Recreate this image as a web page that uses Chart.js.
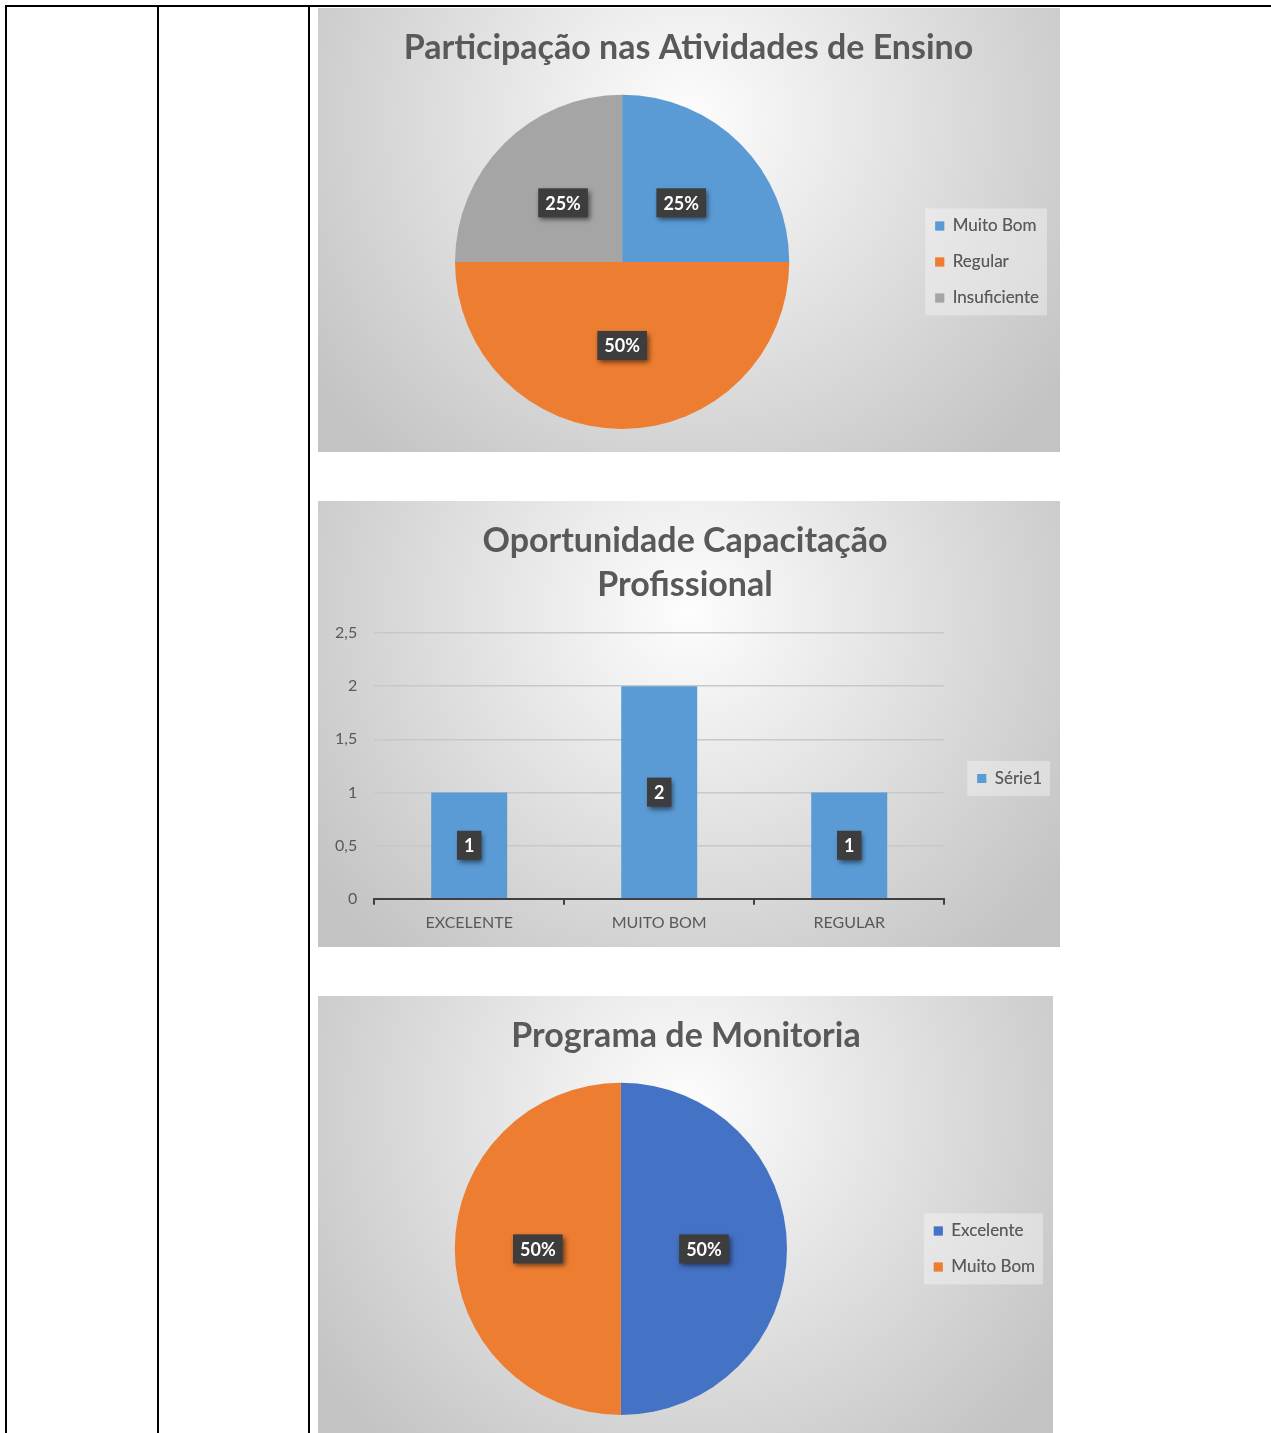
<!DOCTYPE html>
<html lang="pt-BR">
<head>
<meta charset="utf-8">
<title>Gráficos</title>
<script src="https://cdn.jsdelivr.net/npm/chart.js@4.4.1/dist/chart.umd.min.js"></script>
<style>
    html, body { margin: 0; padding: 0; background: #fff; }
    body { width: 1271px; height: 1433px; overflow: hidden; position: relative; }
    .linha { position: absolute; background: #000; }
    canvas { position: absolute; }
</style>
</head>
<body>
<!-- bordas da tabela -->
<div class="linha" style="left:5px;top:5px;width:1266px;height:2px"></div>
<div class="linha" style="left:5px;top:5px;width:2px;height:1428px"></div>
<div class="linha" style="left:157px;top:5px;width:2px;height:1428px"></div>
<div class="linha" style="left:308px;top:5px;width:2px;height:1428px"></div>

<canvas id="grafEnsino" width="742" height="444" style="left:318px;top:8px"></canvas>
<canvas id="grafCapacitacao" width="742" height="446" style="left:318px;top:501px"></canvas>
<canvas id="grafMonitoria" width="735" height="445" style="left:318px;top:996px"></canvas>

<script>
// ---- dados ----
const ensinoCategorias = ['Muito Bom', 'Regular', 'Insuficiente'];
const ensinoValores = [1, 2, 1];
const ensinoCores = ['#5B9BD5', '#ED7D31', '#A5A5A5'];

const capacitacaoCategorias = ['EXCELENTE', 'MUITO BOM', 'REGULAR'];
const capacitacaoValores = [1, 2, 1];
const capacitacaoTicks = [0, 0.5, 1, 1.5, 2, 2.5];

const monitoriaCategorias = ['Excelente', 'Muito Bom'];
const monitoriaValores = [1, 1];
const monitoriaCores = ['#4472C4', '#ED7D31'];

const FONTE = 'Lato, Carlito, Calibri, sans-serif';
const CINZA = '#595959';

// fundo em degradê radial estilo Office
const fundo = {
    id: 'fundo',
    beforeDraw: (chart) => {
        const { ctx, width, height } = chart;
        const g = ctx.createRadialGradient(width * 0.5, height * 0.25, 0, width * 0.5, height * 0.25, width * 0.62);
        g.addColorStop(0, '#fdfdfd');
        g.addColorStop(1, '#c3c3c3');
        ctx.save();
        ctx.fillStyle = g;
        ctx.fillRect(0, 0, width, height);
        ctx.restore();
    }
};

// caixa clara atras da legenda (depois redesenha a legenda por cima)
const fundoLegenda = {
    id: 'fundoLegenda',
    beforeDatasetsDraw: (chart) => {
        const caixas = chart.legend && chart.legend.legendHitBoxes;
        if (!caixas || !caixas.length) return;
        const x0 = Math.min(...caixas.map(b => b.left)) - 10;
        const x1 = Math.max(...caixas.map(b => b.left + b.width)) + 8;
        const y0 = Math.min(...caixas.map(b => b.top)) - 9;
        const y1 = Math.max(...caixas.map(b => b.top + b.height)) + 9;
        const ctx = chart.ctx;
        ctx.save();
        ctx.fillStyle = 'rgba(255,255,255,0.35)';
        ctx.fillRect(x0, y0, x1 - x0, y1 - y0);
        ctx.restore();
        chart.legend.draw();
    }
};

// rotulos de dados em caixa escura
const rotulos = {
    id: 'rotulos',
    afterDatasetsDraw: (chart) => {
        const ctx = chart.ctx;
        const meta = chart.getDatasetMeta(0);
        const valores = chart.data.datasets[0].data;
        const total = valores.reduce((a, b) => a + b, 0);
        const ehPizza = chart.config.type === 'pie';
        ctx.save();
        ctx.font = 'bold 18px ' + FONTE;
        meta.data.forEach((el, i) => {
            let x, y, texto;
            if (ehPizza) {
                const p = el.tooltipPosition();
                x = p.x; y = p.y;
                texto = Math.round(valores[i] / total * 100) + '%';
            } else {
                x = el.x; y = (el.y + el.base) / 2;
                texto = String(valores[i]);
            }
            const w = ctx.measureText(texto).width + 14;
            const h = 29;
            ctx.shadowColor = 'rgba(0,0,0,0.55)';
            ctx.shadowBlur = 5;
            ctx.shadowOffsetX = 2;
            ctx.shadowOffsetY = 3;
            ctx.fillStyle = '#3d3d3d';
            ctx.fillRect(x - w / 2, y - h / 2, w, h);
            ctx.shadowColor = 'transparent';
            ctx.fillStyle = '#fff';
            ctx.textAlign = 'center';
            ctx.textBaseline = 'middle';
            ctx.fillText(texto, x, y + 1);
        });
        ctx.restore();
    }
};

const legendaPadrao = (padding, deslocamento) => ({
    position: 'right',
    fullSize: false,
    labels: {
        boxWidth: 9,
        boxHeight: 9,
        padding: padding,
        color: CINZA,
        font: { family: FONTE, size: 17 }
    },
    // titulo vazio so para empurrar os itens para baixo
    title: {
        display: deslocamento > 0,
        text: '',
        font: { size: 1, lineHeight: 1 },
        padding: { top: deslocamento, bottom: deslocamento }
    }
});

const criarPizza = (id, titulo, categorias, valores, cores, padLayout) => {
    new Chart(document.getElementById(id), {
        type: 'pie',
        data: {
            labels: categorias,
            datasets: [{ data: valores, backgroundColor: cores, borderWidth: 0 }]
        },
        options: {
            responsive: false,
            animation: false,
            devicePixelRatio: 1,
            layout: { padding: padLayout },
            plugins: {
                title: {
                    display: true,
                    text: titulo,
                    color: CINZA,
                    font: { family: FONTE, size: 34, weight: 'bold', lineHeight: 1.2 },
                    padding: { top: 20, bottom: 26 }
                },
                legend: legendaPadrao(19, 0),
                tooltip: { enabled: false }
            }
        },
        plugins: [fundo, fundoLegenda, rotulos]
    });
};

criarPizza('grafEnsino', 'Participação nas Atividades de Ensino', ensinoCategorias, ensinoValores, ensinoCores,
    { left: 10, right: 11, top: 0, bottom: 23 });

criarPizza('grafMonitoria', 'Programa de Monitoria', monitoriaCategorias, monitoriaValores, monitoriaCores,
    { left: 9, right: 8, top: 0, bottom: 26 });

new Chart(document.getElementById('grafCapacitacao'), {
    type: 'bar',
    data: {
        labels: capacitacaoCategorias,
        datasets: [{
            label: 'Série1',
            data: capacitacaoValores,
            backgroundColor: '#5B9BD5',
            barPercentage: 0.4,
            categoryPercentage: 1
        }]
    },
    options: {
        responsive: false,
        animation: false,
        devicePixelRatio: 1,
        layout: { padding: { left: 0, right: 8, top: 0, bottom: 7 } },
        scales: {
            x: {
                grid: { offset: true, drawOnChartArea: false, drawTicks: true, tickLength: 6, color: '#404040', lineWidth: 2 },
                border: { display: true, color: '#404040', width: 2 },
                ticks: { color: CINZA, font: { family: FONTE, size: 16 }, padding: 8 }
            },
            y: {
                min: 0,
                max: 2.5,
                afterBuildTicks: (escala) => { escala.ticks = capacitacaoTicks.map(v => ({ value: v })); },
                grid: { color: '#c8c8c8', lineWidth: 1.5, drawTicks: false },
                border: { display: false },
                ticks: {
                    color: CINZA,
                    font: { family: FONTE, size: 16 },
                    padding: 17,
                    callback: (v) => String(v).replace('.', ',')
                }
            }
        },
        plugins: {
            title: {
                display: true,
                text: ['Oportunidade Capacitação', 'Profissional'],
                color: CINZA,
                font: { family: FONTE, size: 34, weight: 'bold', lineHeight: 1.294 },
                padding: { top: 18, bottom: 26 }
            },
            legend: legendaPadrao(33, 12),
            tooltip: { enabled: false }
        }
    },
    plugins: [fundo, fundoLegenda, rotulos]
});
</script>
</body>
</html>
